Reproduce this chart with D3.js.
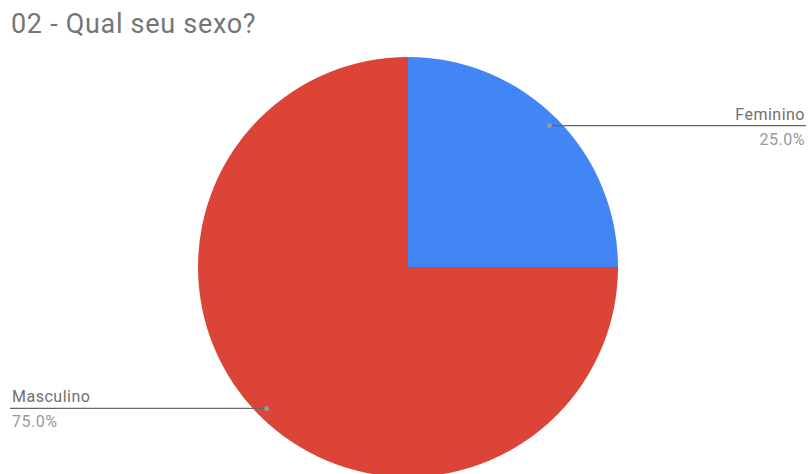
<!DOCTYPE html>
<html>
<head>
<meta charset="utf-8">
<script src="https://cdn.jsdelivr.net/npm/d3@7"></script>
<style>
  html, body { margin: 0; padding: 0; background: #fff; }
  svg { display: block; font-family: Roboto, "Noto Sans", sans-serif; }
</style>
</head>
<body>
<svg id="chart" width="809" height="474"></svg>
<script>
// Survey answers: sex of respondents
const categories = ["Feminino", "Masculino"];
const values = [25, 75];
const colors = ["#4285F4", "#DB4437"];
const title = "02 - Qual seu sexo?";

const svg = d3.select("#chart");
const W = 809, H = 474;
const cx = 408, cy = 267, R = 210;

svg.append("rect").attr("width", W).attr("height", H).attr("fill", "#fff");

svg.append("text")
  .attr("x", 11).attr("y", 33)
  .attr("font-size", 27)
  .attr("letter-spacing", 0.7)
  .attr("fill", "#757575")
  .text(title);

const pie = d3.pie().sort(null).value(d => d.value);
const arcs = pie(categories.map((c, i) => ({ name: c, value: values[i], color: colors[i] })));
const arc = d3.arc().innerRadius(0).outerRadius(R);
const total = d3.sum(values);

const g = svg.append("g").attr("transform", `translate(${cx},${cy})`);
g.selectAll("path").data(arcs).enter().append("path")
  .attr("d", arc)
  .attr("fill", d => d.data.color);

// Leader lines and labels
const dotArc = d3.arc().innerRadius(200).outerRadius(200);
arcs.forEach(d => {
  const [px, py] = dotArc.centroid(d);
  const x0 = cx + px, y0 = cy + py;
  const right = x0 > cx;
  const xEnd = right ? 806 : 10;
  svg.append("line")
    .attr("x1", x0).attr("y1", y0).attr("x2", xEnd).attr("y2", y0)
    .attr("stroke", "#666").attr("stroke-width", 1.2);
  svg.append("circle").attr("cx", x0).attr("cy", y0).attr("r", 2.5).attr("fill", "#999");
  const tx = right ? 805 : 12;
  const anchor = right ? "end" : "start";
  svg.append("text")
    .attr("x", tx).attr("y", y0 - 6)
    .attr("text-anchor", anchor)
    .attr("font-size", 16).attr("letter-spacing", 0.5)
    .attr("fill", "#707070")
    .text(d.data.name);
  svg.append("text")
    .attr("x", tx).attr("y", y0 + 19)
    .attr("text-anchor", anchor)
    .attr("font-size", 16).attr("letter-spacing", 0.5)
    .attr("fill", "#999")
    .text(d3.format(".1f")(d.data.value / total * 100) + "%");
});
</script>
</body>
</html>
